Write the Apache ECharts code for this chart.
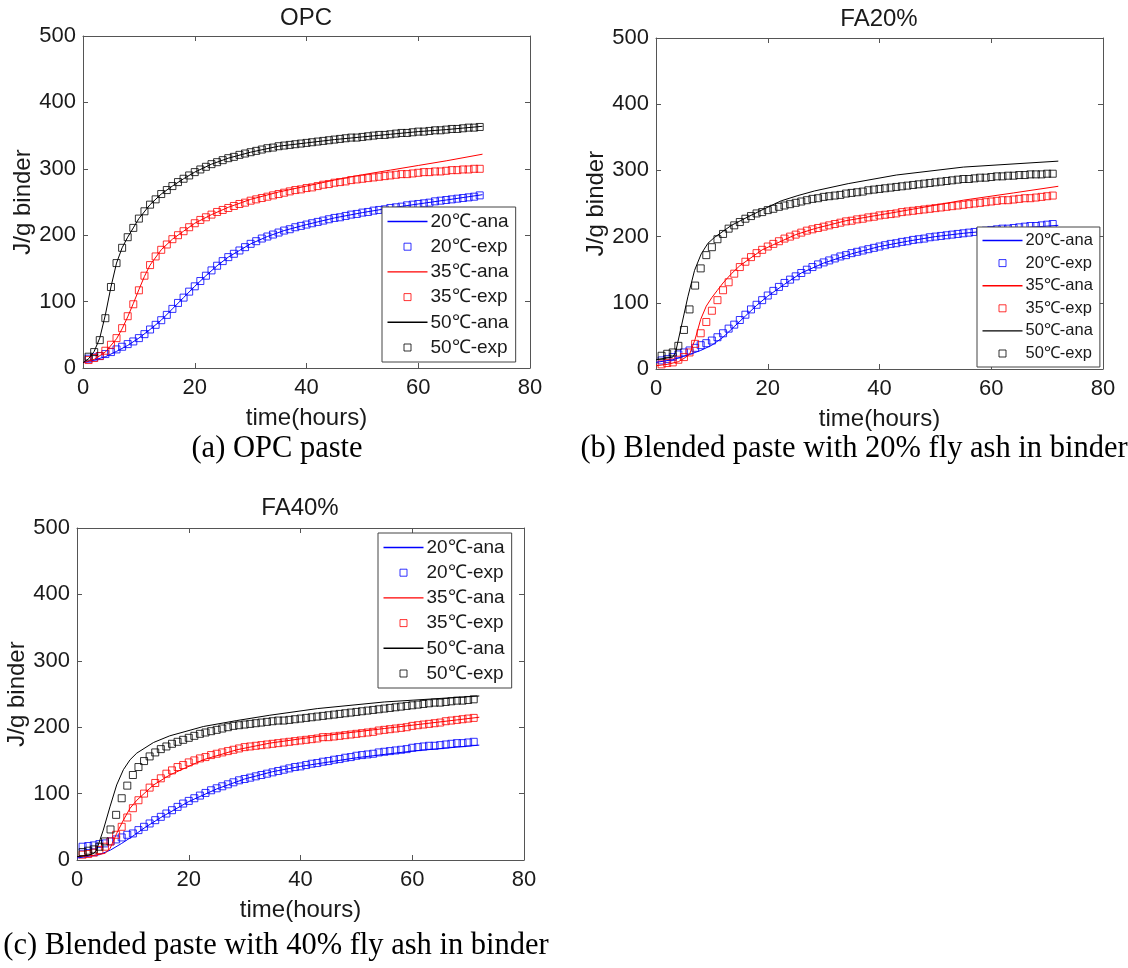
<!DOCTYPE html>
<html>
<head>
<meta charset="utf-8">
<script src="https://cdn.jsdelivr.net/npm/echarts@6/dist/echarts.min.js"></script>
<style>html,body{margin:0;padding:0;background:#fff;}#c{width:1128px;height:968px;}</style>
</head>
<body>
<div id="c"></div>
<script>
// ---------- DATA ----------
const panelTitles = ['OPC', 'FA20%', 'FA40%'];
const captions = ['(a) OPC paste', '(b) Blended paste with 20% fly ash in binder', '(c) Blended paste with 40% fly ash in binder'];
const tempLabels = ['20℃', '35℃', '50℃'];
const xTicks = [0, 20, 40, 60, 80];
const yTicks = [0, 100, 200, 300, 400, 500];

// experimental sampling times (hours)
const expTime = [1,2,3,4,5,6,7,8,9,10,11,12,13,14,15,16,17,18,19,20,21,22,23,24,25,26,27,28,29,30,31,32,33,34,35,36,37,38,39,40,41,42,43,44,45,46,47,48,49,50,51,52,53,54,55,56,57,58,59,60,61,62,63,64,65,66,67,68,69,70,71];

// OPC
const opcExp20 = [14,16,18,21,24,28,32,36,40,45,51,58,65,72,80,89,98,106,115,123,131,139,147,154,161,167,172,177,182,187,191,195,198,201,204,207,209,212,214,216,218,220,222,224,226,227,229,231,232,234,235,237,238,239,241,242,243,245,246,247,248,249,251,252,253,254,255,256,257,258,260];
const opcExp35 = [12,15,18,26,35,45,60,78,96,117,139,155,168,178,186,194,200,206,212,218,223,227,231,235,238,241,244,247,249,252,254,256,258,260,262,264,266,268,269,271,272,274,276,277,279,280,281,283,284,285,286,287,288,289,290,291,292,292,293,294,295,295,296,296,297,298,298,299,299,300,300];
const opcExp50 = [17,24,42,75,122,158,181,197,211,225,236,246,254,262,268,274,280,285,290,295,299,303,307,310,313,316,318,321,323,325,327,329,331,332,334,335,336,337,338,339,340,341,342,343,344,345,346,347,347,348,349,350,351,351,352,353,354,354,355,356,356,357,358,358,359,360,360,361,362,362,363];
const opcAnaT20 = [0,2,4,6,8,10,12,14,16,18,20,22,24,26,28,30,33,36,40,45,50,55,60,65,71.5];
const opcAna20  = [8,12,17,25,34,45,58,72,89,106,123,139,154,167,177,187,198,207,216,226,234,241,247,253,261];
const opcAnaT35 = [0,2,4,6,7,8,9,10,11,12,14,16,18,20,23,26,30,35,40,45,50,55,60,65,71.5];
const opcAna35  = [8,13,24,44,59,77,97,118,138,155,178,194,206,218,231,242,254,265,274,283,291,298,305,312,322];
const opcAnaT50 = [0,1,2,3,4,5,6,7,8,9,10,12,14,16,18,20,23,26,30,35,40,45,50,55,60,65,71.5];
const opcAna50  = [8,14,25,45,80,122,158,181,197,211,225,246,262,274,285,295,307,316,325,334,339,344,348,352,356,359,364];

// FA20%
const fa20Exp20 = [13,15,18,22,25,28,32,36,39,43,48,54,61,67,74,82,90,97,104,111,118,124,130,135,140,145,150,154,158,161,164,167,170,172,175,177,179,181,183,185,187,189,190,192,193,195,196,197,199,200,201,202,203,204,205,206,207,208,209,210,211,212,212,213,214,215,216,216,217,218,219];
const fa20Exp35 = [7,9,10,14,18,25,38,54,71,88,104,119,131,144,154,162,169,175,180,185,189,193,197,200,203,206,209,211,213,215,217,219,221,223,224,226,227,229,230,232,233,234,235,237,238,239,240,241,242,243,244,245,246,247,248,249,250,251,252,253,254,255,255,256,257,258,258,259,260,261,262];
const fa20Exp50 = [20,23,25,35,59,90,126,152,172,184,196,204,212,217,222,227,231,235,237,240,242,245,247,249,251,253,255,257,258,260,261,262,263,265,266,267,268,270,271,272,273,274,275,276,277,278,279,280,281,282,283,284,285,286,287,287,288,289,289,290,291,291,292,292,293,293,294,294,294,295,295];
const fa20AnaT20 = [0,3,6,8,10,12,14,16,18,20,23,26,30,35,40,45,50,55,60,65,72];
const fa20Ana20  = [10,14,22,28,36,48,64,80,96,110,128,145,160,174,185,193,200,205,209,213,217];
const fa20AnaT35 = [0,2,4,5,6,7,8,9,10,11,12,13.5,15,16.5,19,22.4,25,28.4,34,43,55,64,72];
const fa20Ana35  = [5,7,11,16,22,45,75,95,108,119,130,144,156,165,180,193,203,212,224,237,255,266,276];
const fa20AnaT50 = [0,3,3.5,4.5,5.7,6.9,8.1,9.3,10.5,13.5,16.5,19.4,22.4,25.4,28.4,34.4,43,55,72];
const fa20Ana50  = [14,18,25,63,109,149,174,190,199,217,230,242,254,262,269,280,293,305,314];

// FA40%
const fa40Exp20 = [20,21,22,24,25,28,31,34,38,40,45,50,55,60,65,70,75,80,85,89,93,97,101,105,108,111,114,117,120,122,124,126,128,130,132,134,136,138,140,141,143,145,146,148,149,151,152,154,155,157,158,159,160,162,163,164,165,166,167,169,170,171,172,172,173,174,175,176,176,177,178];
const fa40Exp35 = [8,9,11,15,20,28,38,50,64,78,90,100,109,116,123,130,135,140,143,147,150,153,155,158,160,162,164,166,168,170,171,172,173,174,175,176,177,178,179,180,181,182,183,185,185,186,187,188,189,190,191,192,193,195,196,197,198,199,200,202,203,204,205,206,207,209,210,211,212,213,214];
const fa40Exp50 = [12,14,16,20,28,46,68,93,112,128,140,149,156,162,167,171,175,178,181,184,187,190,192,194,196,198,200,202,203,204,205,206,207,208,209,210,210,211,212,213,214,215,216,217,218,219,220,221,222,223,224,225,226,227,228,229,230,231,232,233,234,235,236,237,237,238,239,240,240,241,242];
const fa40AnaT20 = [0,4,6,8,10,12,15,20,25,30,35,40,50,60,72];
const fa40Ana20  = [3,8,15,25,36,48,64,88,107,122,133,141,154,164,173];
const fa40AnaT35 = [0,3,5,5.9,7.1,8.3,9.5,10.7,13.7,16.6,22.6,28.6,34.5,43,55,72];
const fa40Ana35  = [5,7,10,17,40,60,78,90,113,128,151,166,176,186,198,215];
const fa40AnaT50 = [0,2,3,3.5,4.7,5.9,7.1,8.3,9.5,10.7,13.7,16.6,22.6,28.6,34.5,43,55,72];
const fa40Ana50  = [5,7,10,15,45,80,113,136,151,161,177,187,201,210,218,228,238,247];

// ---------- CHART ----------
const colors = ['#0000ff', '#ff0000', '#000000'];
const SANS = '"Liberation Sans", Arial, sans-serif';
const SERIF = '"Liberation Serif", "Times New Roman", serif';
const AXC = '#555555';
const TXT = '#1a1a1a';

const panels = [
  { exp: [opcExp20, opcExp35, opcExp50], anaT: [opcAnaT20, opcAnaT35, opcAnaT50], ana: [opcAna20, opcAna35, opcAna50] },
  { exp: [fa20Exp20, fa20Exp35, fa20Exp50], anaT: [fa20AnaT20, fa20AnaT35, fa20AnaT50], ana: [fa20Ana20, fa20Ana35, fa20Ana50] },
  { exp: [fa40Exp20, fa40Exp35, fa40Exp50], anaT: [fa40AnaT20, fa40AnaT35, fa40AnaT50], ana: [fa40Ana20, fa40Ana35, fa40Ana50] }
];

const grids = [
  { left: 83, top: 36, width: 447, height: 332 },
  { left: 656, top: 38, width: 447, height: 331 },
  { left: 77, top: 528, width: 447, height: 332 }
];
const titlePos = [[306, 18], [879, 19], [300, 508]];
const captionPos = [[277, 449], [854, 449], [276, 946]];
const legendPos = [
  { left: 382, top: 207, font: 19, gap: 6.2 },
  { left: 977, top: 227, font: 16.5, gap: 5.6 },
  { left: 378, top: 533, font: 19, gap: 6.2 }
];

const pair = (ts, vs) => ts.map((t, i) => [t, vs[i]]);
const LINE_ICON = 'path://M0,0H40V1.4H0Z';
const SQUARE_ICON = 'path://M0,3.5L0,3.5M16.5,0H23.5V7H16.5ZM40,3.5L40,3.5';
const ZW = '\u200B';
const tag = (name, gi) => name + ZW.repeat(gi);

const xAxes = [], yAxes = [], series = [], legends = [], graphics = [];
grids.forEach((g, gi) => {
  const common = { gridIndex: gi, type: 'value', splitLine: { show: false },
    axisLine: { show: true, onZero: false, lineStyle: { color: AXC, width: 1 } },
    axisTick: { show: true, inside: true, length: 5, lineStyle: { color: AXC } } };
  xAxes.push(Object.assign({}, common, {
    min: xTicks[0], max: xTicks[xTicks.length - 1], interval: xTicks[1] - xTicks[0], position: 'bottom',
    axisLabel: { fontSize: 22, color: TXT, margin: 9, fontFamily: SANS },
    name: 'time(hours)', nameLocation: 'middle', nameGap: 38,
    nameTextStyle: { fontSize: 24, color: TXT, fontFamily: SANS }
  }));
  xAxes.push(Object.assign({}, common, {
    min: xTicks[0], max: xTicks[xTicks.length - 1], interval: xTicks[1] - xTicks[0], position: 'top',
    axisLabel: { show: false }
  }));
  yAxes.push(Object.assign({}, common, {
    min: yTicks[0], max: yTicks[yTicks.length - 1], interval: yTicks[1] - yTicks[0], position: 'left',
    axisLabel: { fontSize: 22, color: TXT, margin: 7, fontFamily: SANS },
    name: 'J/g binder', nameLocation: 'middle', nameGap: 41,
    nameTextStyle: { fontSize: 24, color: TXT, fontFamily: SANS }
  }));
  yAxes.push(Object.assign({}, common, {
    min: yTicks[0], max: yTicks[yTicks.length - 1], interval: yTicks[1] - yTicks[0], position: 'right',
    axisLabel: { show: false }
  }));

  const p = panels[gi];
  const legendData = [];
  tempLabels.forEach((tl, k) => {
    const anaName = tag(tl + '-ana', gi);
    const expName = tag(tl + '-exp', gi);
    series.push({
      type: 'line', name: anaName, xAxisIndex: gi * 2, yAxisIndex: gi * 2,
      data: pair(p.anaT[k], p.ana[k]), symbol: 'none', showSymbol: false,
      smooth: false, color: colors[k],
      lineStyle: { width: 1, color: colors[k] }, itemStyle: { color: colors[k], borderColor: colors[k] },
      z: 3, animation: false
    });
    series.push({
      type: 'scatter', name: expName, xAxisIndex: gi * 2, yAxisIndex: gi * 2,
      data: pair(expTime, p.exp[k]), symbol: 'rect', symbolSize: 7,
      itemStyle: { color: 'rgba(0,0,0,0)', borderColor: colors[k], borderWidth: 1 },
      z: 2, animation: false
    });
    legendData.push({ name: anaName, icon: LINE_ICON, itemStyle: { color: colors[k], borderColor: colors[k], borderWidth: 0 } });
    legendData.push({ name: expName, icon: SQUARE_ICON, itemStyle: { color: 'rgba(0,0,0,0)', borderColor: colors[k], borderWidth: 1 } });
  });
  const lp = legendPos[gi];
  legends.push({
    left: lp.left, top: lp.top, orient: 'vertical', itemWidth: 40, itemHeight: 7, itemGap: lp.gap,
    padding: [5, 7, 5, 5], borderColor: '#444', borderWidth: 1, backgroundColor: '#fff',
    textStyle: { fontSize: lp.font, color: TXT, fontFamily: SANS, padding: [0, 0, 0, -2] },
    formatter: n => n.replace(/\u200B/g, ''),
    selectedMode: false, data: legendData
  });

  graphics.push({ type: 'text', x: titlePos[gi][0], y: titlePos[gi][1],
    style: { text: panelTitles[gi], fontSize: 24, fontFamily: SANS, fill: TXT,
      align: 'center', verticalAlign: 'middle', textAlign: 'center', textVerticalAlign: 'middle' } });
  graphics.push({ type: 'text', x: captionPos[gi][0], y: captionPos[gi][1],
    style: { text: captions[gi], fontSize: 30.5, fontFamily: SERIF, fill: '#000',
      align: 'center', verticalAlign: 'middle', textAlign: 'center', textVerticalAlign: 'middle' } });
});

const chart = echarts.init(document.getElementById('c'), null, { renderer: 'canvas' });
chart.setOption({
  backgroundColor: '#ffffff',
  animation: false,
  grid: grids,
  xAxis: xAxes,
  yAxis: yAxes,
  legend: legends,
  series: series,
  graphic: graphics
});
</script>
</body>
</html>
